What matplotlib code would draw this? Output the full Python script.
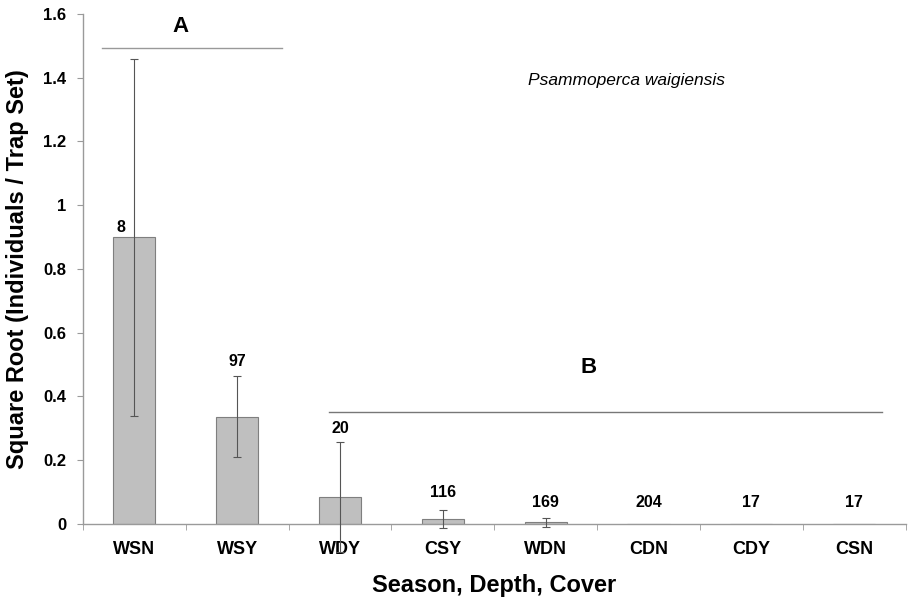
import matplotlib
matplotlib.use("Agg")
import matplotlib.pyplot as plt
from matplotlib.ticker import FuncFormatter, FixedLocator
import numpy as np

plt.rcParams['font.family'] = ['Liberation Sans', 'DejaVu Sans']

groups = ['WSN', 'WSY', 'WDY', 'CSY', 'WDN', 'CDN', 'CDY', 'CSN']
means = [0.90, 0.337, 0.085, 0.015, 0.005, 0.0, 0.0, 0.0]
errors = [0.56, 0.126, 0.172, 0.028, 0.015, 0.0, 0.0, 0.0]
counts = [8, 97, 20, 116, 169, 204, 17, 17]
count_y = [0.93, 0.511, 0.301, 0.100, 0.069, 0.069, 0.069, 0.069]
count_dx = [-0.13, 0, 0, 0, 0, 0, 0, 0]

axis_grey = '#9a9a9a'

fig = plt.figure(figsize=(9.12, 6.03), dpi=100)
ax = fig.add_axes([0.091, 0.131, 0.902, 0.846])

x = np.arange(len(groups))
ax.bar(x, means, width=0.41, color='#bfbfbf', edgecolor='#7f7f7f', linewidth=0.8, zorder=2)
err = ax.errorbar(x[:5], means[:5], yerr=errors[:5], fmt='none', ecolor='#555555',
                  elinewidth=0.8, capsize=3, capthick=0.8, zorder=3)
for artist in err.lines[1] + err.lines[2]:
    artist.set_clip_on(False)

for xi, dx, c, yl in zip(x, count_dx, counts, count_y):
    ax.text(xi + dx, yl, str(c), ha='center', va='center', fontsize=11.5, fontweight='bold')

# significance groups
ax.plot([-0.315, 1.44], [1.493, 1.493], color='#999999', lw=1.0)
ax.text(0.45, 1.56, 'A', ha='center', va='center', fontsize=16, fontweight='bold')
ax.plot([1.89, 7.27], [0.352, 0.352], color='#777777', lw=1.0)
ax.text(4.42, 0.49, 'B', ha='center', va='center', fontsize=16, fontweight='bold')

ax.text(4.79, 1.39, 'Psammoperca waigiensis', ha='center', va='center',
        fontsize=12.5, fontstyle='italic')

ax.set_xlim(-0.5, len(groups) - 0.5)
ax.set_ylim(0, 1.6)
ax.set_xticks(x)
ax.set_xticklabels(groups, fontsize=13, fontweight='bold')
ax.tick_params(axis='x', length=0, pad=12)
ax.xaxis.set_minor_locator(FixedLocator(np.arange(-0.5, len(groups))))
ax.tick_params(axis='x', which='minor', length=4, color=axis_grey, direction='out')

ax.set_yticks(np.arange(0, 1.61, 0.2))
ax.yaxis.set_major_formatter(FuncFormatter(lambda v, p: f"{round(v, 1):g}"))
ax.tick_params(axis='y', length=4, color=axis_grey, labelsize=12, pad=8)
for lab in ax.get_yticklabels():
    lab.set_fontweight('bold')

for side in ['top', 'right']:
    ax.spines[side].set_visible(False)
for side in ['left', 'bottom']:
    ax.spines[side].set_color(axis_grey)
    ax.spines[side].set_linewidth(1.0)

ax.set_ylabel('Square Root (Individuals / Trap Set)', fontsize=17, fontweight='bold', labelpad=10)
ax.set_xlabel('Season, Depth, Cover', fontsize=17, fontweight='bold', labelpad=12)

fig.savefig('out.png', dpi=100)
